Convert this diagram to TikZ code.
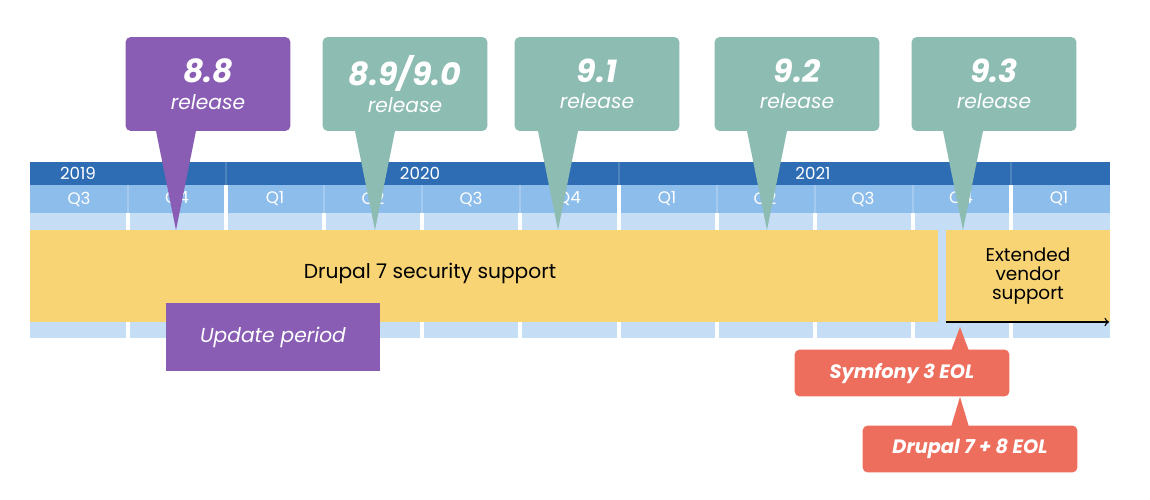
\documentclass[tikz,border=0pt]{standalone}
\usepackage{fontspec}
\setmainfont{Poppins}
\usetikzlibrary{positioning}
\definecolor{yearblue}{HTML}{2E6DB4}
\definecolor{qblue}{HTML}{8DBDEB}
\definecolor{stripblue}{HTML}{C6DEF5}
\definecolor{suppyellow}{HTML}{F8D475}
\definecolor{relteal}{HTML}{8DBCB2}
\definecolor{relpurple}{HTML}{8A5DB5}
\definecolor{eolred}{HTML}{EE6E5E}
\tikzset{
  release/.style={fill=#1, rounded corners=3pt, minimum width=3.3cm, minimum height=1.88cm,
    text=white, align=center, font=\itshape, inner sep=0pt},
  eol/.style={fill=eolred, rounded corners=3pt, minimum width=4.3cm, minimum height=0.94cm,
    text=white, font=\bfseries\itshape\fontsize{11}{13}\selectfont, inner sep=0pt},
  qlabel/.style={text=white, font=\fontsize{9.5}{10}\selectfont},
  ylabel/.style={text=white, font=\fontsize{9.5}{11}\selectfont}
}
\begin{document}
\begin{tikzpicture}[x=0.02cm, y=-0.02cm]
  \useasboundingbox[fill=white] (0,0) rectangle (1150,500);

  % timeline bars
  \fill[stripblue] (30,213) rectangle (1110,338);
  \fill[qblue] (30,185) rectangle (1110,213);
  \fill[yearblue] (30,162) rectangle (1110,185);
  \foreach \x in {128,324,422,520,717,815,913} {
    \fill[white] (\x-2,213) rectangle (\x+2,338);
    \fill[qblue!80!white] (\x-1,185) rectangle (\x+1,213);
  }
  \foreach \x in {226,619,1011} {
    \fill[white] (\x-2,185) rectangle (\x+2,338);
    \fill[yearblue!85!white] (\x-1,162) rectangle (\x+1,185);
  }
  \node[ylabel] (y2019) at (78,173) {2019};
  \node[ylabel] (y2020) at (420,173) {2020};
  \node[ylabel] (y2021) at (813,173) {2021};
  \foreach \q [count=\i] in {Q3,Q4,Q1,Q2,Q3,Q4,Q1,Q2,Q3,Q4,Q1}
    \node[qlabel] (q\i) at (30+98*\i-49,199) {\q};

  % support bars
  \fill[suppyellow] (30,230) rectangle (938,322);
  \fill[suppyellow] (946,230) rectangle (1110,322);
  \node[font=\fontsize{11.5}{13}\selectfont] (d7) at (430,273) {Drupal 7 security support};
  \node[align=center, font=\fontsize{10.5}{11}\selectfont] (evs) at (1028,276) {Extended\\vendor\\support};
  \coordinate (evsstart) at (946,322);
  \coordinate (evsend) at (1109,322);
  \draw[->, thick] (evsstart) -- (evsend);

  % update period
  \node[fill=relpurple, minimum width=4.28cm, minimum height=1.36cm, text=white,
    font=\itshape\fontsize{11.5}{13}\selectfont, inner sep=0pt] (upd) at (273,337) {Update period};

  % releases
  \foreach \name/\col/\cx/\tip/\ver in {r88/relpurple/208/176/8.8, r89/relteal/405/375/8.9\slash 9.0,
      r91/relteal/597/558/9.1, r92/relteal/797/767/9.2, r93/relteal/994/963/9.3} {
    \node[release=\col] (\name) at (\cx,84)
      {{\bfseries\fontsize{18}{20}\selectfont \ver}\\[3pt]{\fontsize{11.5}{13}\selectfont release}};
    \coordinate (\name tip) at (\tip,230);
    \fill[\col] (\tip-20,131) -- (\name tip) -- (\tip+20,131) -- cycle;
  }

  % end of life
  \node[eol] (sym) at (902,373) {Symfony 3 EOL};
  \node[eol] (d78) at (970,449) {Drupal 7 + 8 EOL};
  \coordinate (symtip) at (960,327);
  \fill[eolred] (951,351) -- (symtip) -- (969,351) -- cycle;
  \fill[eolred] (951,427) -- (sym.south -| symtip) -- (969,427) -- cycle;
\end{tikzpicture}
\end{document}
